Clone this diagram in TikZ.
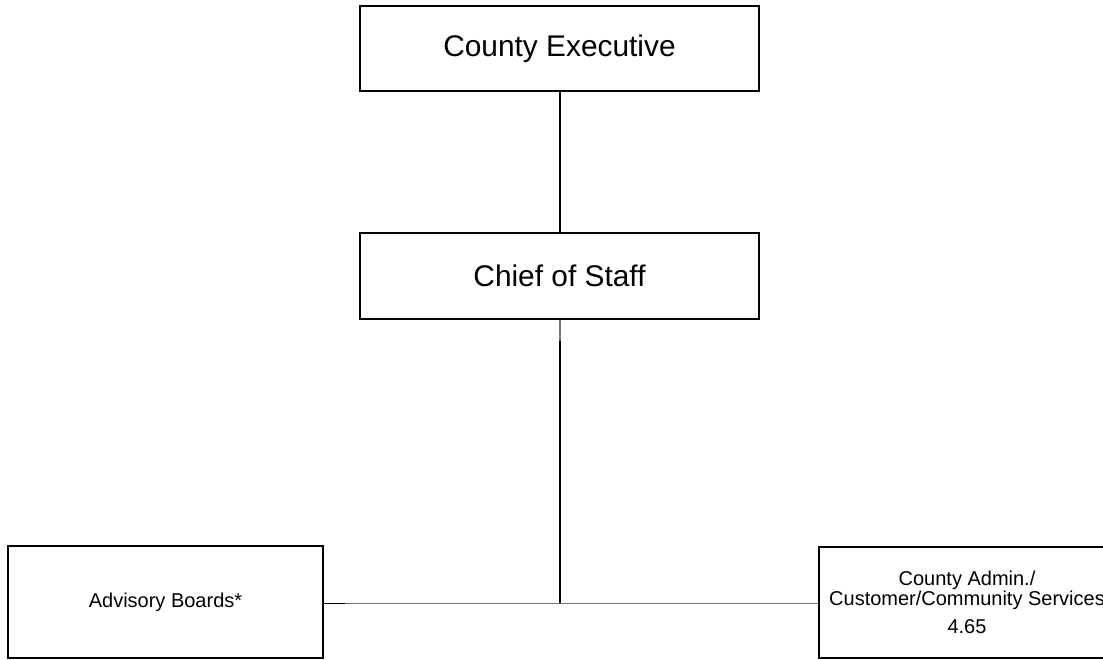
\documentclass[tikz,border=0pt]{standalone}
\usepackage{fontspec}
\setmainfont{Liberation Sans}
\begin{document}
\begin{tikzpicture}[x=0.75pt,y=-0.75pt,
  box/.style={draw=black,line width=1.1pt,rectangle,inner sep=0pt,align=center},
  bigbox/.style={box,minimum width=299.25pt,font=\fontsize{22.4}{27}\selectfont},
  smallbox/.style={box,font=\fontsize{15}{15}\selectfont},
  conn/.style={draw=black,line width=1.1pt},
  thin/.style={draw=black!55,line width=0.8pt}]
\useasboundingbox (0,0) rectangle (1103,660);
\clip (0,0) rectangle (1103,660);
\node[bigbox,minimum height=63.75pt] (cos) at (559.5,48.5) {County Executive};
\node[bigbox,minimum height=64.5pt] (chief) at (559.5,276) {Chief of Staff};
\node[smallbox,minimum width=236.25pt,minimum height=84pt] (adv) at (165.5,602) {Advisory Boards*};
\node[smallbox,minimum width=222pt,minimum height=83.25pt] (cas) at (967,602.5)
  {County Admin./\\Customer/Community Services\\[6pt]4.65};
\coordinate (j) at (560,603.5);
\coordinate (s1) at (560,341);
\coordinate (s2) at (345,603.5);
\draw[conn] (cos.south -| j) -- (chief.north -| j);
\draw[thin] (chief.south -| j) -- (s1);
\draw[conn,line width=0.9pt] (s1) -- (j);
\draw[conn,line width=0.8pt] (adv.east |- j) -- (s2);
\draw[thin] (s2) -- (j) -- (cas.west |- j);
\end{tikzpicture}
\end{document}
